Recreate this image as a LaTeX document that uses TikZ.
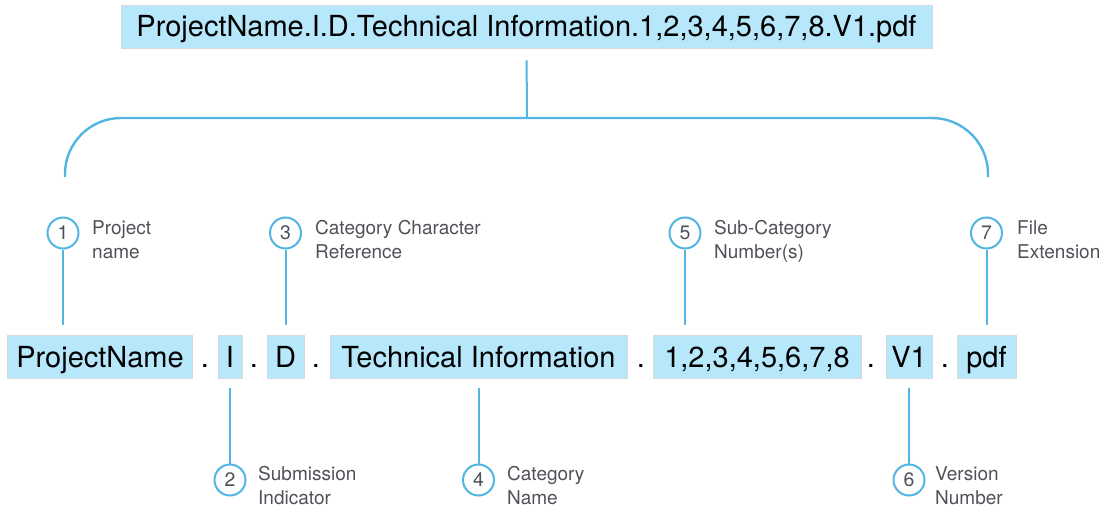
\documentclass[tikz,border=0pt]{standalone}
\usepackage{fontspec}
\setmainfont{TeX Gyre Heros}

\definecolor{lineblue}{RGB}{82,181,226}
\definecolor{boxblue}{RGB}{182,231,251}
\definecolor{notegray}{RGB}{78,82,88}

\begin{document}
\begin{tikzpicture}[x = 1pt, y = -1pt,
	part/.style = {fill = boxblue, draw = black!15, line width = 0.8pt, inner xsep = 0pt, inner ysep = 0pt,
		text height = 32pt, text depth = 11pt, anchor = base, font = \fontsize{29}{34}\selectfont},
	sep/.style = {anchor = base, inner sep = 0pt, font = \fontsize{29}{34}\selectfont},
	num/.style = {circle, draw = lineblue, line width = 2pt, fill = white, minimum size = 31pt,
		inner sep = 0pt, text = notegray, font = \fontsize{19.5}{19.5}\selectfont},
	note/.style = {anchor = north west, align = left, inner sep = 0pt, text = notegray,
		font = \fontsize{19}{24}\selectfont},
	link/.style = {draw = lineblue, line width = 2pt}]

	\useasboundingbox (0, 0) rectangle (1105, 508);

	% Full file name and its bracket

	\node [part, minimum width = 811pt] (full) at (526.5, 37) {ProjectName.I.D.Technical Information.1,2,3,4,5,6,7,8.V1.pdf};

	\coordinate (brace) at (527, 118);

	\draw [link, line width = 2.4pt, rounded corners = 56pt] (65, 177) -- (65, 118) -- (988, 118) -- (988, 177);
	\draw [link, shorten <= 12pt] (full.south) -- (brace);

	% Parts of the name

	\node [part, minimum width = 185pt] (pname) at (100, 367) {ProjectName};
	\node [sep] (dot1) at (205, 367) {.};
	\node [part, minimum width = 24pt] (ii) at (230, 367) {I};
	\node [sep] (dot2) at (254, 367) {.};
	\node [part, minimum width = 37pt] (dd) at (285.5, 367) {D};
	\node [sep] (dot3) at (316, 367) {.};
	\node [part, minimum width = 297pt] (tech) at (478.5, 367) {Technical Information};
	\node [sep] (dot4) at (641, 367) {.};
	\node [part, minimum width = 208pt] (nums) at (757, 367) {1,2,3,4,5,6,7,8};
	\node [sep] (dot5) at (871, 367) {.};
	\node [part, minimum width = 46pt] (ver) at (909, 367) {V1};
	\node [sep] (dot6) at (945, 367) {.};
	\node [part, minimum width = 59pt] (ext) at (986.5, 367) {pdf};

	% Numbered notes above

	\node [num] (n1) at (63, 233) {1};
	\node [num] (n3) at (285.5, 233) {3};
	\node [num] (n5) at (685, 233) {5};
	\node [num] (n7) at (986.5, 233) {7};

	\node [note] (t1) at (92, 220) {Project\\name};
	\node [note] (t3) at (315, 220) {Category Character\\Reference};
	\node [note] (t5) at (714, 220) {Sub-Category\\Number(s)};
	\node [note] (t7) at (1017, 220) {File\\Extension};

	\begin{scope}[link, shorten >= 10pt]

		\draw (n1) -- (n1 |- pname.north);
		\draw (n3) -- (n3 |- dd.north);
		\draw (n5) -- (n5 |- nums.north);
		\draw (n7) -- (n7 |- ext.north);

	\end{scope}

	% Numbered notes below

	\node [num] (n2) at (230, 480) {2};
	\node [num] (n4) at (478.5, 480) {4};
	\node [num] (n6) at (909, 480) {6};

	\node [note] (t2) at (258, 466) {Submission\\Indicator};
	\node [note] (t4) at (507, 466) {Category\\Name};
	\node [note] (t6) at (935, 466) {Version\\Number};

	\begin{scope}[link, shorten >= 10pt]

		\draw (n2) -- (n2 |- ii.south);
		\draw (n4) -- (n4 |- tech.south);
		\draw (n6) -- (n6 |- ver.south);

	\end{scope}

\end{tikzpicture}
\end{document}
